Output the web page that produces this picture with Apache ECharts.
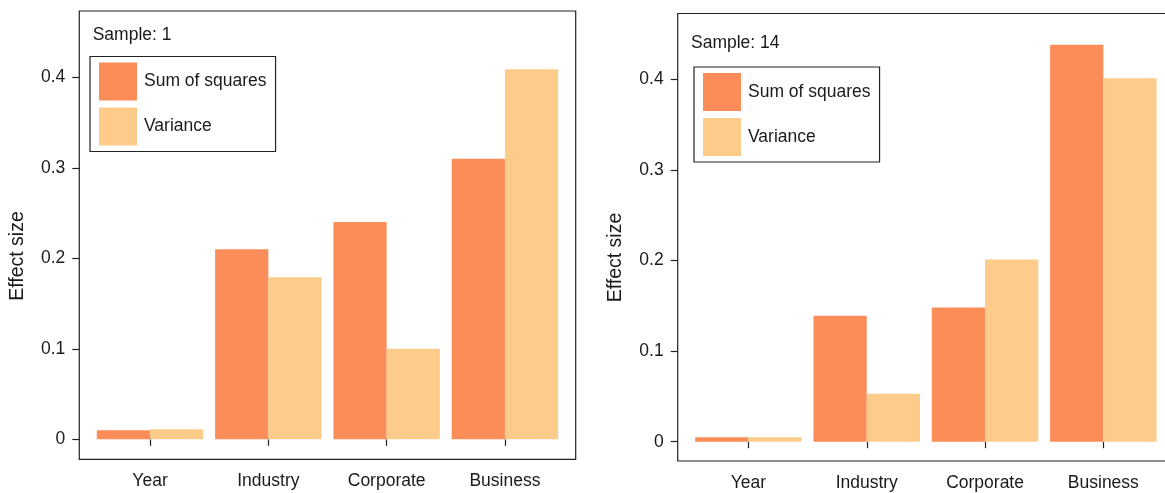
<!DOCTYPE html>
<html>
<head>
<meta charset="utf-8">
<script src="https://cdn.jsdelivr.net/npm/echarts@6/dist/echarts.min.js"></script>
<style>
  html, body { margin: 0; padding: 0; background: #fff; }
  #chart { width: 1165px; height: 493px; }
</style>
</head>
<body>
<div id="chart"></div>
<script>
// Effect sizes per predictor, two samples
const categories = ['Year', 'Industry', 'Corporate', 'Business'];
const seriesNames = ['Sum of squares', 'Variance'];
const sample1SumSq = [0.010, 0.210, 0.240, 0.310];
const sample1Var   = [0.011, 0.179, 0.100, 0.409];
const sample14SumSq = [0.005, 0.139, 0.148, 0.438];
const sample14Var   = [0.005, 0.053, 0.201, 0.401];
const yTicks = [0, 0.1, 0.2, 0.3, 0.4];
const panelTitles = ['Sample: 1', 'Sample: 14'];
const yTitle = 'Effect size';

const COLOR_SS = '#FC8D59';
const COLOR_VAR = '#FDCC8A';
const INK = '#1a1a1a';
const FONT = '"Liberation Sans", Arial, Helvetica, sans-serif';
const FS = 17.5;

function fmtTick(v) { return v === 0 ? '0' : v.toFixed(1); }

// panel geometry: frame box and inner category band area
const panels = [
  { frameLeft: 79.3, top: 11, height: 448.3, min: -0.0221, max: 0.4733,
    legendLeft: 90, legendTop: 56.5, titleX: 92.7, titleY: 35, yTitleX: 18, yTitleY: 256 },
  { frameLeft: 677.7, top: 13.5, height: 447.5, min: -0.0213, max: 0.4726,
    legendLeft: 694, legendTop: 67, titleX: 691, titleY: 43.3, yTitleX: 616, yTitleY: 257.5 }
];
const FRAME_W = 496.4;
const PAD = 11.6;

const grid = [], xAxis = [], yAxis = [], legend = [], graphic = [];
panels.forEach((p, i) => {
  // frame box (the second panel runs past the right edge of the canvas)
  grid.push({ left: p.frameLeft, top: p.top, width: FRAME_W, height: p.height,
    outerBoundsMode: 'none', containLabel: false,
    show: true, borderColor: '#222', borderWidth: 1.2, backgroundColor: 'transparent' });
  xAxis.push({ gridIndex: 2 * i, type: 'value', show: false });
  yAxis.push({ gridIndex: 2 * i, type: 'value', show: false });
  // data area
  grid.push({ left: p.frameLeft + PAD, top: p.top, width: FRAME_W - 2 * PAD, height: p.height,
    outerBoundsMode: 'none', containLabel: false });
  xAxis.push({
    gridIndex: 2 * i + 1, type: 'category', data: categories,
    axisLine: { show: false },
    axisTick: { show: true, alignWithLabel: true, length: 6.5, lineStyle: { color: '#222', width: 1.2 } },
    axisLabel: { color: INK, fontFamily: FONT, fontSize: FS, margin: 13 }
  });
  yAxis.push({
    gridIndex: 2 * i + 1, type: 'value', min: p.min, max: p.max, offset: PAD,
    axisLine: { show: false },
    splitLine: { show: false },
    axisTick: { show: true, length: 7, customValues: yTicks, lineStyle: { color: '#222', width: 1.2 } },
    axisLabel: { color: INK, fontFamily: FONT, fontSize: FS, margin: 14,
      customValues: yTicks, formatter: fmtTick }
  });
  legend.push({
    data: seriesNames, orient: 'vertical', left: p.legendLeft, top: p.legendTop,
    itemWidth: 38, itemHeight: 38, itemGap: 7, icon: 'rect',
    padding: [6, 9, 6, 9], borderColor: '#222', borderWidth: 1.2,
    selectedMode: false,
    itemStyle: { borderWidth: 0 },
    textStyle: { color: INK, fontFamily: FONT, fontSize: FS, padding: [0, 0, 0, 2] }
  });
  graphic.push({ type: 'text', x: p.titleX, y: p.titleY,
    style: { text: panelTitles[i], fill: INK, font: FS + 'px ' + FONT, textVerticalAlign: 'middle' } });
  graphic.push({ type: 'text', x: p.yTitleX, y: p.yTitleY, rotation: Math.PI / 2,
    style: { text: yTitle, fill: INK, font: '19.5px ' + FONT,
      textAlign: 'center', textVerticalAlign: 'middle' } });
});

function barSeries(name, data, idx, color) {
  return { name, type: 'bar', data, xAxisIndex: idx, yAxisIndex: idx,
    barGap: '0%', barCategoryGap: '10%', itemStyle: { color }, emphasis: { disabled: true } };
}

const option = {
  animation: false,
  backgroundColor: '#fff',
  grid, xAxis, yAxis, legend, graphic,
  series: [
    barSeries(seriesNames[0], sample1SumSq, 1, COLOR_SS),
    barSeries(seriesNames[1], sample1Var, 1, COLOR_VAR),
    barSeries(seriesNames[0], sample14SumSq, 3, COLOR_SS),
    barSeries(seriesNames[1], sample14Var, 3, COLOR_VAR)
  ]
};

echarts.init(document.getElementById('chart'), null, { renderer: 'canvas' }).setOption(option);
</script>
</body>
</html>
